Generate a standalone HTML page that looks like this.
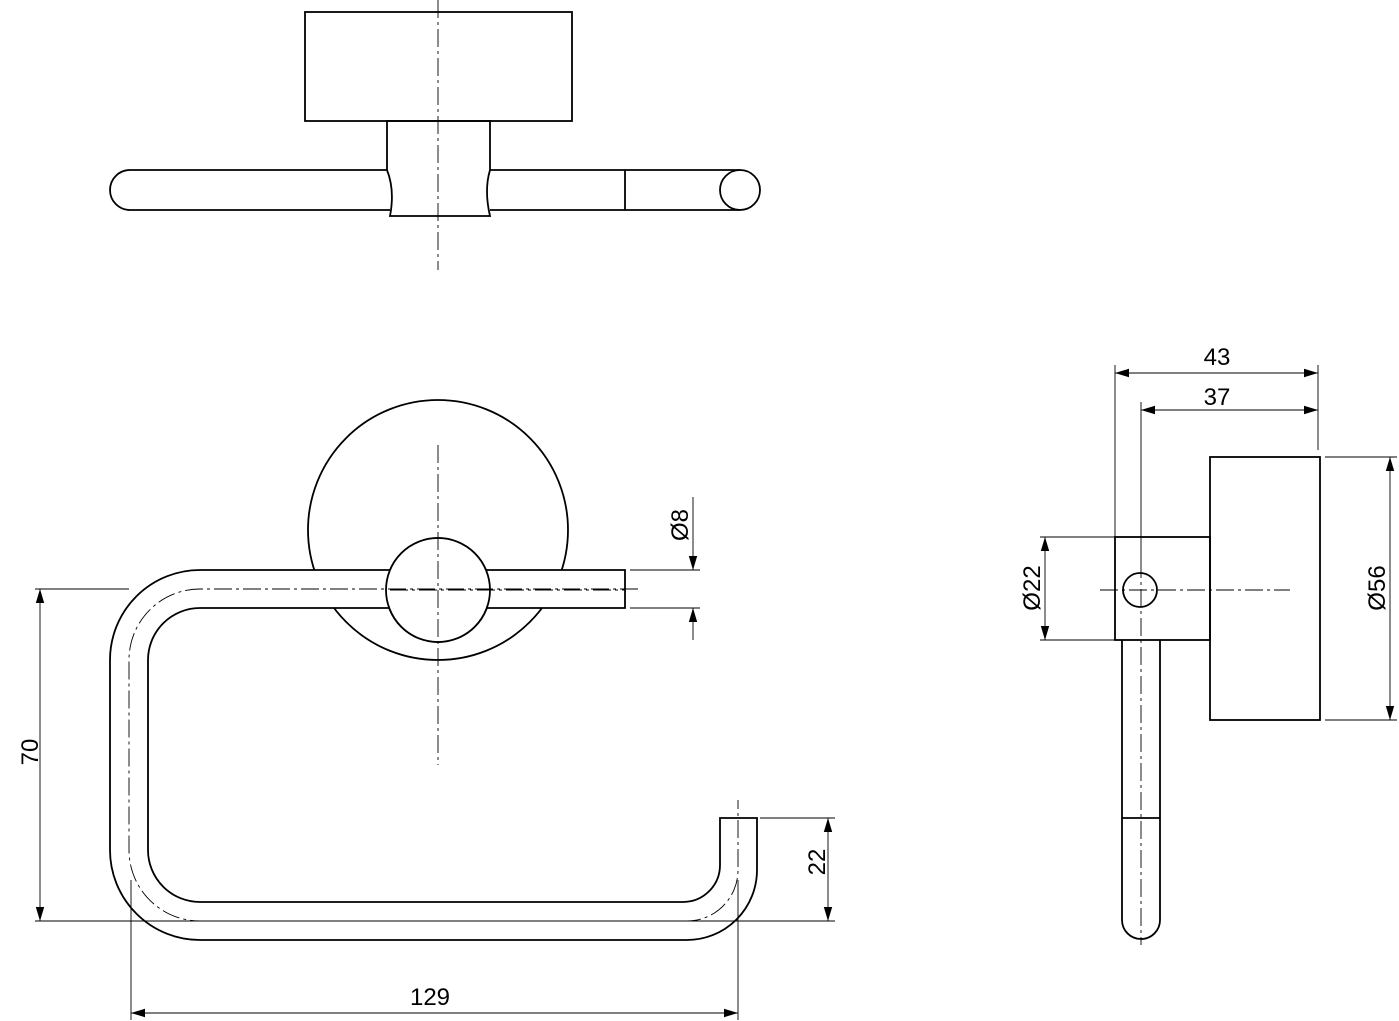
<!DOCTYPE html>
<html><head><meta charset="utf-8"><style>html,body{margin:0;background:#fff}svg{display:block}</style></head><body>
<svg width="1399" height="1021" viewBox="0 0 1399 1021" xmlns="http://www.w3.org/2000/svg" font-family="'Liberation Sans',sans-serif" font-size="24" fill="none" stroke="#000">
<defs>
<marker id="a" viewBox="0 0 10 10" refX="10" refY="5" markerWidth="14" markerHeight="14" markerUnits="userSpaceOnUse" orient="auto-start-reverse"><path d="M0,2L10,5L0,8z" fill="#000" stroke="none"/></marker>
</defs>
<g stroke-width="1.8">
<!-- TOP VIEW -->
<rect x="305" y="12" width="267" height="109"/>
<path d="M387,121 L490,121 L490,170 Q484,190 490,216 L390,216 Q395,190 387,170 Z"/>
<path d="M387,170 L130,170 A20,20 0 0 0 130,210 L390,210"/>
<path d="M490,170 L740,170 M490,210 L740,210"/>
<circle cx="740" cy="190" r="20"/>
<line x1="625" y1="170" x2="625" y2="210"/>
<!-- FRONT VIEW -->
<circle cx="438" cy="530" r="130"/>
<circle cx="438" cy="590" r="52"/>
<path d="M625,570 L200,570 A90,90 0 0 0 110,660 L110,850 A90,90 0 0 0 200,940 L687,940 A70,70 0 0 0 757,870 L757,818 L720,818 L720,865 A37,37 0 0 1 683,902 L200,902 A52,52 0 0 1 148,850 L148,660 A52,52 0 0 1 200,608 L625,608 Z" fill="#fff"/>
<circle cx="438" cy="590" r="52" fill="#fff"/>
<!-- SIDE VIEW -->
<rect x="1210" y="457" width="110" height="263"/>
<rect x="1115" y="537" width="95" height="103"/>
<circle cx="1140" cy="590" r="17"/>
<path d="M1122,640 L1122,920 A19,19 0 0 0 1160,920 L1160,640"/>
<line x1="1122" y1="818" x2="1160" y2="818"/>
</g>
<!-- centerlines -->
<g stroke-width="0.9" stroke-dasharray="18,4,3,4">
<line x1="438" y1="0" x2="438" y2="270"/>
<line x1="438" y1="445" x2="438" y2="765"/>
<line x1="390" y1="590" x2="625" y2="590"/>
<path d="M638,589 L200,589 A71,71 0 0 0 129,660 L129,850 A71,71 0 0 0 200,921 L687,921 A51,51 0 0 0 738,870 L738,800"/>
<line x1="1100" y1="590" x2="1290" y2="590"/>
<line x1="1141" y1="560" x2="1141" y2="945"/>
</g>
<g stroke-width="0.9">
<!-- extension lines -->
<line x1="35" y1="589" x2="129" y2="589"/>
<line x1="35" y1="921" x2="835" y2="921"/>
<line x1="760" y1="818" x2="835" y2="818"/>
<line x1="131" y1="880" x2="131" y2="1020"/>
<line x1="738" y1="880" x2="738" y2="1020"/>
<line x1="630" y1="570" x2="700" y2="570"/>
<line x1="630" y1="608" x2="700" y2="608"/>
<line x1="1115" y1="365" x2="1115" y2="537"/>
<line x1="1318" y1="365" x2="1318" y2="450"/>
<line x1="1141" y1="402" x2="1141" y2="560"/>
<line x1="1040" y1="537" x2="1115" y2="537"/>
<line x1="1040" y1="640" x2="1115" y2="640"/>
<line x1="1325" y1="457" x2="1397" y2="457"/>
<line x1="1325" y1="720" x2="1397" y2="720"/>
<!-- dim lines -->
<line x1="40" y1="589" x2="40" y2="921" marker-start="url(#a)" marker-end="url(#a)"/>
<line x1="828" y1="818" x2="828" y2="921" marker-start="url(#a)" marker-end="url(#a)"/>
<line x1="131" y1="1013" x2="738" y2="1013" marker-start="url(#a)" marker-end="url(#a)"/>
<line x1="693" y1="497" x2="693" y2="570" marker-end="url(#a)"/>
<line x1="693" y1="640" x2="693" y2="608" marker-end="url(#a)"/>
<line x1="1115" y1="373" x2="1318" y2="373" marker-start="url(#a)" marker-end="url(#a)"/>
<line x1="1141" y1="410" x2="1318" y2="410" marker-start="url(#a)" marker-end="url(#a)"/>
<line x1="1045" y1="537" x2="1045" y2="640" marker-start="url(#a)" marker-end="url(#a)"/>
<line x1="1390" y1="457" x2="1390" y2="720" marker-start="url(#a)" marker-end="url(#a)"/>
</g>
<g fill="#000" stroke="none" text-anchor="middle">
<text x="430" y="1005">129</text>
<text x="1217" y="365">43</text>
<text x="1217" y="405">37</text>
<text transform="translate(38,752) rotate(-90)">70</text>
<text transform="translate(825,862) rotate(-90)">22</text>
<text transform="translate(688,525) rotate(-90)">Ø8</text>
<text transform="translate(1040,588) rotate(-90)">Ø22</text>
<text transform="translate(1385,588) rotate(-90)">Ø56</text>
</g>
</svg>
</body></html>
